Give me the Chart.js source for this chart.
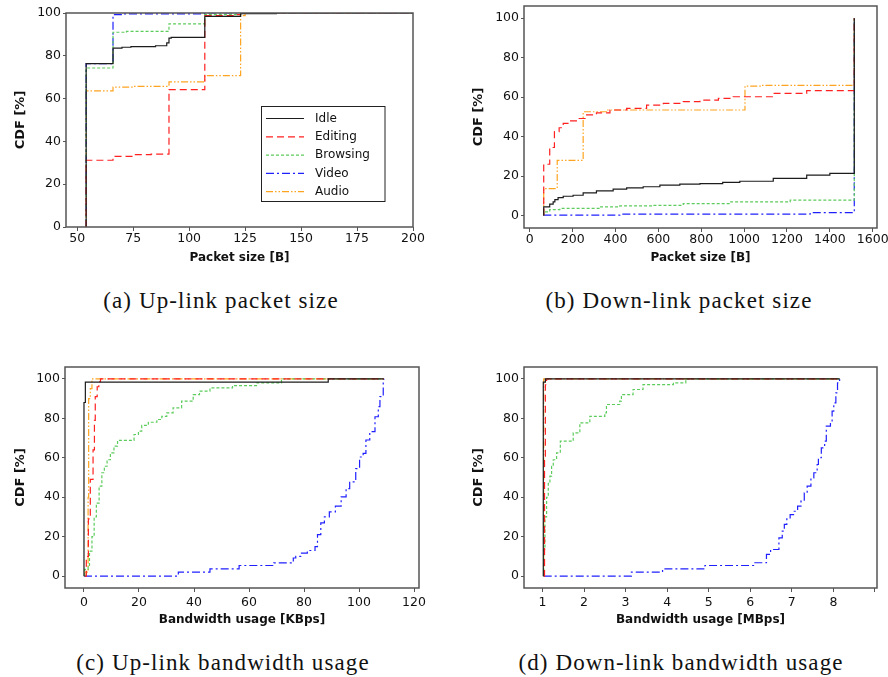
<!DOCTYPE html>
<html>
<head>
<meta charset="utf-8">
<script src="https://cdn.jsdelivr.net/npm/chart.js@4.4.1/dist/chart.umd.min.js"></script>
<style>
  html, body { margin:0; padding:0; background:#fff; }
  body { width:888px; height:677px; position:relative; overflow:hidden; }
  .panel { position:absolute; }
  .cap { position:absolute; width:440px; text-align:center; font-family:"Liberation Serif", serif;
         font-size:23px; letter-spacing:1.1px; line-height:24px; color:#111; white-space:nowrap; }
</style>
</head>
<body>
<div class="panel" style="left:0;top:0;width:440px;height:280px"><canvas id="ca" width="440" height="280"></canvas></div>
<div class="panel" style="left:440px;top:0;width:448px;height:280px"><canvas id="cb" width="448" height="280"></canvas></div>
<div class="panel" style="left:0;top:360px;width:440px;height:280px"><canvas id="cc" width="440" height="280"></canvas></div>
<div class="panel" style="left:440px;top:360px;width:448px;height:280px"><canvas id="cd" width="448" height="280"></canvas></div>
<div class="cap" style="left:1px;top:289px">(a) Up-link packet size</div>
<div class="cap" style="left:459px;top:289px">(b) Down-link packet size</div>
<div class="cap" style="left:3px;top:651px">(c) Up-link bandwidth usage</div>
<div class="cap" style="left:461px;top:651px">(d) Down-link bandwidth usage</div>
<script>
// ---------------- data ----------------
const seriesNames = ['Idle', 'Editing', 'Browsing', 'Video', 'Audio'];

// (a) Up-link packet size [B] vs CDF [%]
const upSizeIdle = [[54,0],[54,76.3],[66,83.6],[70,84],[74,84.3],[85,84.7],[90,86],[91,88.3],[92,88.6],[107,98.4],[123,99.7],[139,100],[200,100]];
const upSizeEditing = [[54,0],[54,31.2],[66,33],[75,33.8],[83,34.1],[91,64.2],[107,98.8],[121,99.2],[123,100],[200,100]];
const upSizeBrowsing = [[54,0],[54,74.3],[66,91],[72,91.4],[91,94.9],[107,99.2],[123,100],[200,100]];
const upSizeVideo = [[54,0],[54,76.3],[66,99.2],[70,99.6],[107,100],[200,100]];
const upSizeAudio = [[54,0],[54,63.6],[66,65.4],[75,65.7],[91,67.8],[107,70.7],[123,98.8],[125,100],[200,100]];
const upSizeXTicks = [50, 75, 100, 125, 150, 175, 200];

// (b) Down-link packet size [B] vs CDF [%]
const downSizeIdle = [[65,0],[65,4.4],[93,5.8],[109,6.9],[117,8.1],[132,9.1],[156,9.8],[202,10.3],[249,11.5],[311,12.5],[389,13.4],[452,14],[529,14.6],[607,15.4],[700,15.9],[794,16.2],[900,16.8],[980,17.4],[1136,18.8],[1292,20.5],[1400,21.4],[1514,22.2],[1514,100]];
const downSizeEditing = [[65,0],[65,26],[93,34.5],[115,42.5],[137,44.5],[156,46.7],[187,48],[226,49.2],[265,51],[311,52],[374,53.5],[452,54.3],[545,56],[623,56.9],[716,57.7],[794,58.5],[880,59.4],[949,60.2],[1136,61.9],[1292,63.3],[1514,64.3],[1514,100]];
const downSizeBrowsing = [[65,0],[65,1.9],[93,3],[140,3.6],[327,4.4],[420,4.9],[576,5.2],[716,6.1],[934,6.9],[1215,7.8],[1514,8.6],[1514,100]];
const downSizeVideo = [[65,0],[65,0.2],[420,0.7],[1308,1.5],[1514,2.2],[1514,100]];
const downSizeAudio = [[65,0],[65,13.7],[128,28],[249,52.6],[358,53.5],[1004,65.6],[1080,66],[1514,66],[1514,100]];
const downSizeXTicks = [0, 200, 400, 600, 800, 1000, 1200, 1400, 1600];

// (c) Up-link bandwidth usage [KBps] vs CDF [%]
const upBwIdle = [[0,0],[0,88],[0.5,98.3],[88.8,100],[109,100]];
const upBwEditing = [[0.3,0],[0.85,10],[1.6,29],[2.3,49],[3.3,64],[3.8,79],[4.1,91],[4.8,96],[5.4,98.6],[6,100],[109,100]];
const upBwBrowsing = [[0.25,0],[0.25,3.4],[1.5,5],[2,12.7],[2.9,20],[3.7,30],[4.5,37],[5.5,45.6],[6.5,52.4],[7.4,55.7],[8.4,59],[9.6,62.5],[10.9,65.9],[12.2,68.8],[18.2,71.8],[19.8,73.5],[21,76.4],[23.4,78],[26.5,79.4],[28.3,81],[30.1,82.8],[32.4,85.3],[35.5,88.7],[39.7,92],[42,93.8],[45.8,95.4],[54,96.6],[62.7,98],[71.8,100],[109,100]];
const upBwVideo = [[0,0],[34.3,2],[45.8,3.7],[56.4,5.4],[69,6.7],[76.1,9.2],[77,10],[78.8,11.7],[81.2,13],[84,15],[84.9,21],[86.1,27],[87.4,30],[89.2,32.6],[91.4,35.5],[93.5,40.2],[95.3,44.4],[96.6,47.8],[98.8,54.5],[100.2,60.4],[101.5,62.2],[102.5,69],[103.9,73.2],[105.8,80.8],[107,85.9],[107.6,91],[108.8,99.4],[109,100]];
const upBwAudio = [[0.3,0],[0.3,2],[1.5,40],[1.7,90],[2.3,95],[2.9,100],[109,100]];
const upBwXTicks = [0, 20, 40, 60, 80, 100, 120];

// (d) Down-link bandwidth usage [MBps] vs CDF [%]
const downBwIdle = [[1.02,0],[1.02,98.3],[1.07,100],[8.15,100]];
const downBwEditing = [[1.03,0],[1.05,60],[1.07,97],[1.1,100],[8.15,100]];
const downBwBrowsing = [[1.03,0],[1.03,13.5],[1.06,30],[1.1,40],[1.14,47],[1.18,50.7],[1.22,55.7],[1.26,59],[1.34,62.5],[1.43,68.4],[1.74,72.6],[1.9,77.7],[2.14,81],[2.5,82.8],[2.54,87],[2.86,88.7],[2.9,92],[3.18,94.6],[3.42,97.1],[4.15,98],[4.45,100],[8.15,100]];
const downBwVideo = [[1.03,0],[3.14,2],[3.89,3.7],[4.91,5.4],[6.08,6.8],[6.39,11],[6.49,13.5],[6.69,19.4],[6.77,22.8],[6.82,26.2],[6.88,29],[6.96,31.2],[7.06,32.9],[7.14,35.5],[7.22,38],[7.3,42.2],[7.37,45.6],[7.46,49.8],[7.53,52.4],[7.61,56.6],[7.64,60],[7.71,65],[7.79,68.4],[7.83,76],[7.93,77.7],[7.97,83.6],[8.01,87.8],[8.06,92.9],[8.1,98],[8.15,100]];
const downBwAudio = [[1.03,0],[1.03,100],[8.15,100]];
const downBwXTicks = [1, 2, 3, 4, 5, 6, 7, 8, 9];
const downBwXLabels = ['1','2','3','4','5','6','7','8',''];

const cdfTicks = [0, 20, 40, 60, 80, 100];

// ---------------- styles ----------------
const seriesColors = ['#1c1c1c', '#ff2020', '#5ccc5c', '#2020ff', '#ffa420'];
const seriesDash = [[], [7, 4], [3, 2], [8, 3, 2, 3], [7, 2, 1.5, 2, 1.5, 2]];
const AXIS = '#555';
const TXT = '#111';

const framePlugin = {
  id: 'frame',
  afterDatasetsDraw(chart) {
    const a = chart.chartArea, ctx = chart.ctx;
    ctx.save();
    ctx.strokeStyle = AXIS; ctx.lineWidth = 1.5;
    ctx.strokeRect(a.left, a.top, a.right - a.left, a.bottom - a.top);
    ctx.restore();
  }
};

const boxLegend = {
  id: 'boxLegend',
  afterDraw(chart, args, o) {
    if (!o || !o.box) return;
    const ctx = chart.ctx; const [x0, y0, w, h] = o.box;
    ctx.save();
    ctx.fillStyle = '#fff'; ctx.fillRect(x0, y0, w, h);
    ctx.strokeStyle = '#222'; ctx.lineWidth = 1; ctx.strokeRect(x0, y0, w, h);
    ctx.font = o.font; ctx.textBaseline = 'middle'; ctx.textAlign = 'left'; ctx.fillStyle = TXT;
    chart.data.datasets.forEach((ds, i) => {
      const y = o.firstRow + i * o.rowGap;
      ctx.save();
      ctx.strokeStyle = ds.borderColor; ctx.lineWidth = ds.borderWidth; ctx.setLineDash(ds.borderDash || []);
      ctx.beginPath(); ctx.moveTo(o.lineX0, y); ctx.lineTo(o.lineX1, y); ctx.stroke();
      ctx.restore();
      ctx.fillText(ds.label, o.textX, y);
    });
    ctx.restore();
  }
};

function makeDatasets(list) {
  return list.map((pts, i) => ({
    label: seriesNames[i],
    data: pts.map(p => ({ x: p[0], y: p[1] })),
    borderColor: seriesColors[i],
    borderDash: seriesDash[i],
    borderWidth: 1.2,
    pointRadius: 0,
    stepped: true,
    fill: false,
    tension: 0
  }));
}

function makeChart(id, p) {
  return new Chart(document.getElementById(id), {
    type: 'line',
    data: { datasets: makeDatasets(p.series) },
    plugins: [framePlugin, boxLegend],
    options: {
      responsive: false,
      animation: false,
      events: [],
      layout: { padding: { left: 0, top: p.padTop, right: p.padRight, bottom: 0 } },
      plugins: {
        legend: { display: false },
        tooltip: { enabled: false },
        boxLegend: p.legend || {}
      },
      scales: {
        x: {
          type: 'linear', min: p.xMin, max: p.xMax,
          afterBuildTicks: s => { s.ticks = p.xTicks.map(v => ({ value: v })); },
          afterFit: s => { s.height = p.xH; s.paddingLeft = 0; s.paddingRight = 0; },
          border: { display: false },
          grid: { drawOnChartArea: false, drawTicks: true, tickLength: 4, color: AXIS, lineWidth: 1 },
          ticks: {
            autoSkip: false, maxRotation: 0, minRotation: 0, padding: p.xPad, color: TXT,
            font: { family: 'DejaVu Sans', size: 12.5 },
            callback: (v, i) => p.xLabels ? p.xLabels[i] : String(v)
          },
          title: { display: true, text: p.xTitle, color: TXT,
            font: { family: 'DejaVu Sans', size: 12, weight: 'bold' },
            padding: { top: 0, bottom: p.xTitlePad } }
        },
        y: {
          type: 'linear', min: p.yMin, max: p.yMax,
          afterBuildTicks: s => { s.ticks = cdfTicks.map(v => ({ value: v })); },
          afterFit: s => { s.width = p.yW; s.paddingTop = 0; s.paddingBottom = 0; },
          border: { display: false },
          grid: { drawOnChartArea: false, drawTicks: true, tickLength: 3, color: AXIS, lineWidth: 1 },
          ticks: { autoSkip: false, padding: 2, color: TXT, font: { family: 'DejaVu Sans', size: 12.5 } },
          title: { display: true, text: 'CDF [%]', color: TXT,
            font: { family: 'DejaVu Sans', size: 13, weight: 'bold' },
            padding: { top: p.yTitlePad, bottom: 0 } }
        }
      }
    }
  });
}

makeChart('ca', {
  series: [upSizeIdle, upSizeEditing, upSizeBrowsing, upSizeVideo, upSizeAudio],
  padTop: 13, padRight: 27, yW: 66, xH: 53,
  xMin: 45, xMax: 200, yMin: 0, yMax: 100,
  xTicks: upSizeXTicks, xPad: 0.5, xTitle: 'Packet size [B]', xTitlePad: 14.8, yTitlePad: 13.2,
  legend: { box: [261.5, 106.5, 123.5, 95], font: '12px "DejaVu Sans"', firstRow: 118.5, rowGap: 18.3,
            lineX0: 266, lineX1: 304, textX: 315 }
});
makeChart('cb', {
  series: [downSizeIdle, downSizeEditing, downSizeBrowsing, downSizeVideo, downSizeAudio],
  padTop: 6, padRight: 11, yW: 84, xH: 52,
  xMin: -27, xMax: 1620, yMin: -6.3, yMax: 106.2,
  xTicks: downSizeXTicks, xPad: 0, xTitle: 'Packet size [B]', xTitlePad: 14.8, yTitlePad: 31.2
});
makeChart('cc', {
  series: [upBwIdle, upBwEditing, upBwBrowsing, upBwVideo, upBwAudio],
  padTop: 7, padRight: 21, yW: 65, xH: 52,
  xMin: -6.9, xMax: 121.8, yMin: -6, yMax: 106,
  xTicks: upBwXTicks, xPad: 3, xTitle: 'Bandwidth usage [KBps]', xTitlePad: 12.8, yTitlePad: 13.2
});
makeChart('cd', {
  series: [downBwIdle, downBwEditing, downBwBrowsing, downBwVideo, downBwAudio],
  padTop: 7, padRight: 11, yW: 84, xH: 52,
  xMin: 0.556, xMax: 9.05, yMin: -6, yMax: 106,
  xTicks: downBwXTicks, xLabels: downBwXLabels, xPad: 3, xTitle: 'Bandwidth usage [MBps]', xTitlePad: 12.8, yTitlePad: 31.2
});
</script>
</body>
</html>
